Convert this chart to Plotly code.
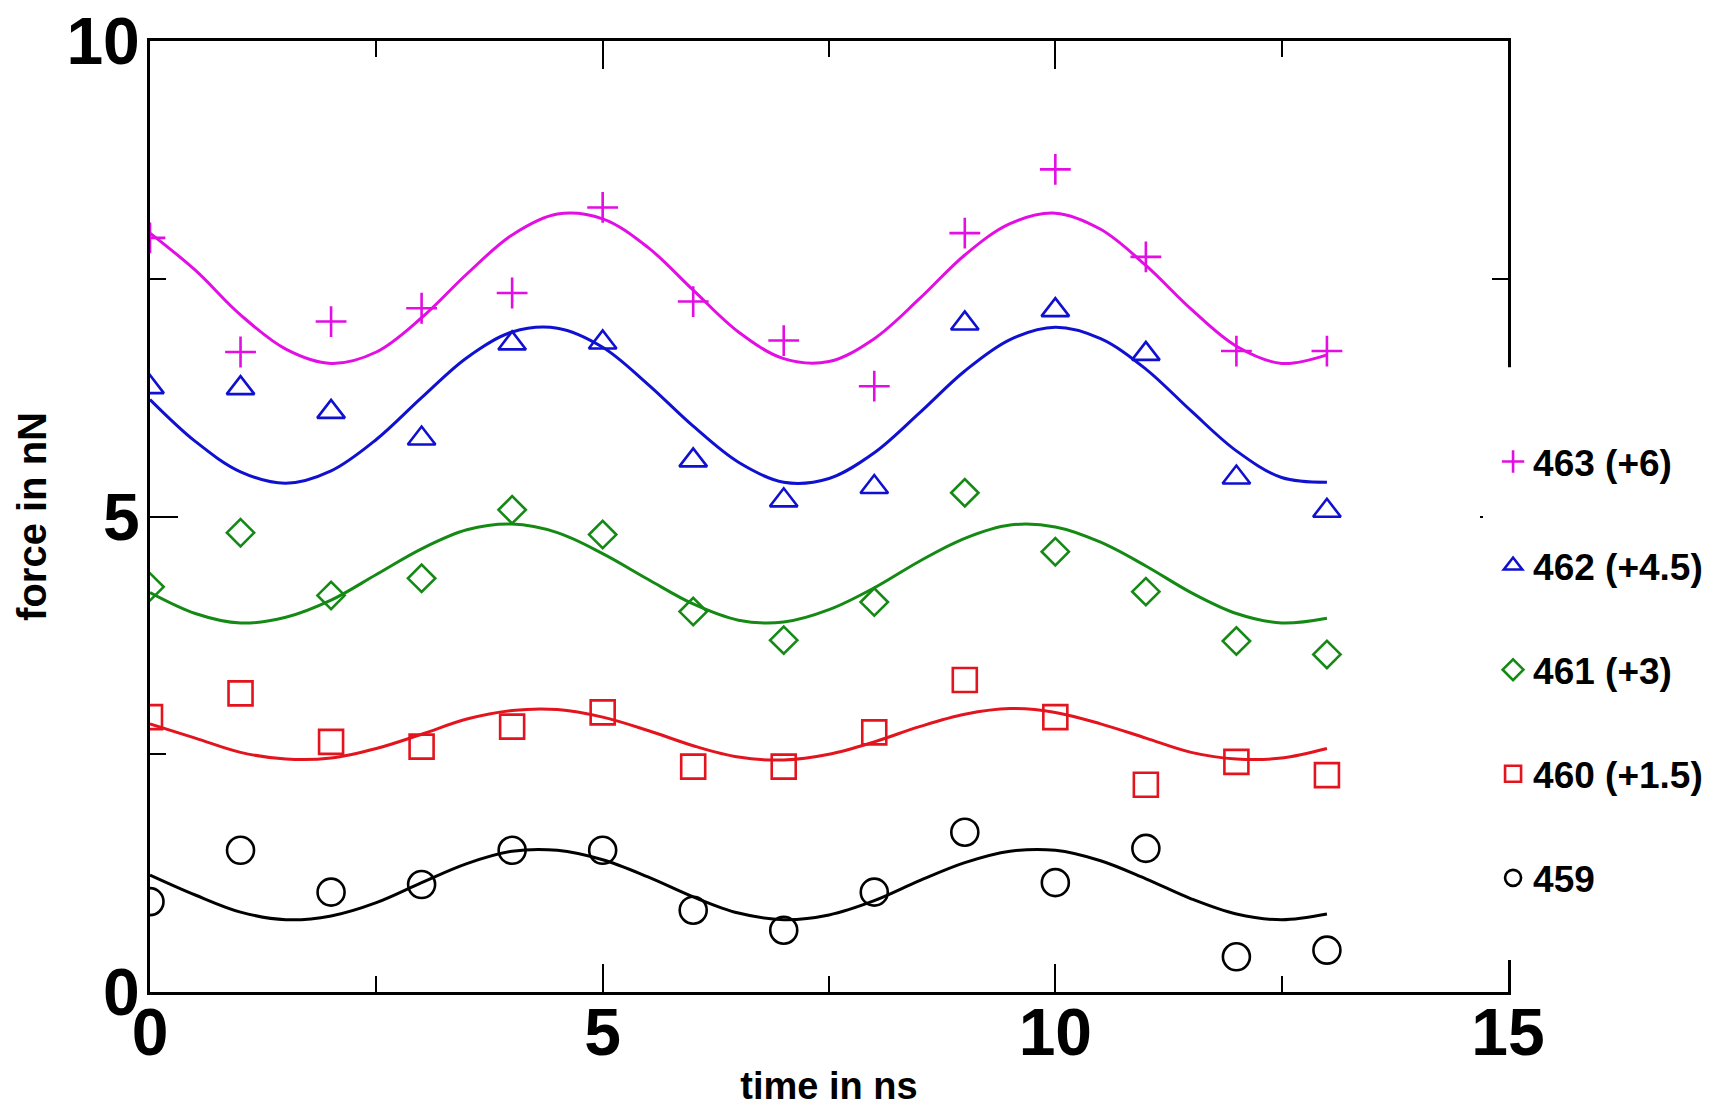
import plotly.graph_objects as go

# ---------------- data ----------------
time_ns = [0, 1, 2, 3, 4, 5, 6, 7, 8, 9, 10, 11, 12, 13]

f463 = [7.93, 6.73, 7.05, 7.19, 7.35, 8.25, 7.26, 6.85, 6.37, 7.98, 8.65, 7.73, 6.74, 6.74]
f462 = [6.36, 6.35, 6.10, 5.82, 6.82, 6.83, 5.59, 5.17, 5.31, 7.03, 7.17, 6.71, 5.41, 5.06]
f461 = [4.26, 4.83, 4.17, 4.35, 5.07, 4.81, 4.00, 3.70, 4.10, 5.25, 4.63, 4.21, 3.69, 3.55]
f460 = [2.89, 3.14, 2.63, 2.58, 2.79, 2.94, 2.37, 2.37, 2.73, 3.28, 2.89, 2.18, 2.42, 2.28]
f459 = [0.95, 1.49, 1.05, 1.13, 1.49, 1.49, 0.86, 0.65, 1.05, 1.68, 1.15, 1.51, 0.37, 0.44]

# fitted curves, every 0.5 ns
fit_t = [0.0, 0.5, 1.0, 1.5, 2.0, 2.5, 3.0, 3.5, 4.0, 4.5, 5.0, 5.5, 6.0, 6.5,
         7.0, 7.5, 8.0, 8.5, 9.0, 9.5, 10.0, 10.5, 11.0, 11.5, 12.0, 12.5, 13.0]
fit463 = [7.98, 7.59, 7.12, 6.76, 6.61, 6.73, 7.09, 7.55, 7.96, 8.18, 8.13, 7.83, 7.38, 6.94,
          6.66, 6.63, 6.87, 7.29, 7.75, 8.08, 8.19, 8.02, 7.64, 7.18, 6.79, 6.61, 6.70]
fit462 = [6.23, 5.79, 5.47, 5.35, 5.48, 5.81, 6.25, 6.67, 6.94, 6.98, 6.78, 6.39, 5.95, 5.57,
          5.36, 5.40, 5.67, 6.09, 6.53, 6.86, 6.99, 6.87, 6.55, 6.11, 5.69, 5.41, 5.36]
fit461 = [4.20, 3.98, 3.88, 3.94, 4.12, 4.39, 4.66, 4.86, 4.92, 4.83, 4.61, 4.34, 4.08, 3.91,
          3.89, 4.02, 4.25, 4.53, 4.77, 4.91, 4.89, 4.73, 4.48, 4.20, 3.98, 3.88, 3.93]
fit460 = [2.82, 2.67, 2.52, 2.45, 2.46, 2.56, 2.71, 2.87, 2.96, 2.97, 2.89, 2.75, 2.59, 2.47,
          2.44, 2.50, 2.63, 2.79, 2.92, 2.98, 2.94, 2.82, 2.67, 2.52, 2.45, 2.46, 2.56]
fit459 = [1.23, 1.02, 0.84, 0.76, 0.80, 0.94, 1.15, 1.35, 1.48, 1.49, 1.39, 1.21, 1.00, 0.83,
          0.76, 0.81, 0.96, 1.17, 1.36, 1.48, 1.49, 1.38, 1.19, 0.98, 0.82, 0.76, 0.82]

series_names = ["463 (+6)", "462 (+4.5)", "461 (+3)", "460 (+1.5)", "459"]
x_ticks = [0, 5, 10, 15]
y_ticks = [0, 5, 10]

# ---------------- styling ----------------
FONT = "Liberation Sans, Arial, Helvetica, sans-serif"
styles = [
    dict(color="#e30ee3", symbol="cross-thin-open", size=22),
    dict(color="#1010d0", symbol="triangle-up-open", size=24),
    dict(color="#148a14", symbol="diamond-open", size=21),
    dict(color="#e3141e", symbol="square-open", size=24),
    dict(color="#000000", symbol="circle-open", size=27),
]
points = [f463, f462, f461, f460, f459]
fits = [fit463, fit462, fit461, fit460, fit459]

fig = go.Figure()

for fit, st in zip(fits, styles):
    fig.add_trace(go.Scatter(
        x=fit_t, y=fit, mode="lines", line=dict(color=st["color"], width=3, shape="spline"),
        showlegend=False, hoverinfo="skip"))

for name, pts, st in zip(series_names, points, styles):
    fig.add_trace(go.Scatter(
        x=time_ns, y=pts, mode="markers", name=name, legendgroup=name,
        marker=dict(symbol=st["symbol"], size=st["size"], color=st["color"],
                    line=dict(color=st["color"], width=2.6))))

axis_common = dict(
    showline=True, linecolor="black", linewidth=3, mirror="ticks",
    ticks="inside", ticklen=28, tickwidth=2, tickcolor="black",
    showgrid=False, zeroline=False, automargin=False, ticklabeloverflow="allow",
    tickfont=dict(family=FONT, size=66, color="black", weight="bold"),
    minor=dict(ticks="inside", ticklen=16, tickwidth=2, tickcolor="black", showgrid=False),
)

fig.update_xaxes(
    range=[0, 15], tickvals=x_ticks, ticktext=[str(v) for v in x_ticks],
    minor_dtick=2.5, minor_tick0=0,
    title=dict(text="time in ns", font=dict(family=FONT, size=38, color="black", weight="bold"), standoff=10),
    ticklabelstandoff=-19, **axis_common)
fig.update_yaxes(
    range=[0, 10], tickvals=y_ticks, ticktext=[str(v) for v in y_ticks],
    minor_dtick=2.5, minor_tick0=0,
    title=dict(text="force in nN", font=dict(family=FONT, size=40, color="black", weight="bold"), standoff=8),
    ticklabelstandoff=-6, **axis_common)

# white legend panel that hides the right frame behind the legend
fig.add_shape(type="rect", xref="paper", yref="paper", x0=0.9816, x1=1.2, y0=0.0336, y1=0.657,
              fillcolor="white", line=dict(width=0), layer="above")

# page body has an 8px margin, so the figure is 8px smaller than the window
fig.update_layout(
    width=1712, height=1099,
    margin=dict(l=142, r=212, t=33, b=115),
    paper_bgcolor="white", plot_bgcolor="white",
    showlegend=True,
    legend=dict(x=0.989, xanchor="left", y=0.590, yanchor="top",
                bgcolor="rgba(255,255,255,0)", borderwidth=0,
                font=dict(family=FONT, size=37, color="black", weight="bold"),
                traceorder="grouped", tracegroupgap=53, itemwidth=30),
)

fig.write_html("out.html")
